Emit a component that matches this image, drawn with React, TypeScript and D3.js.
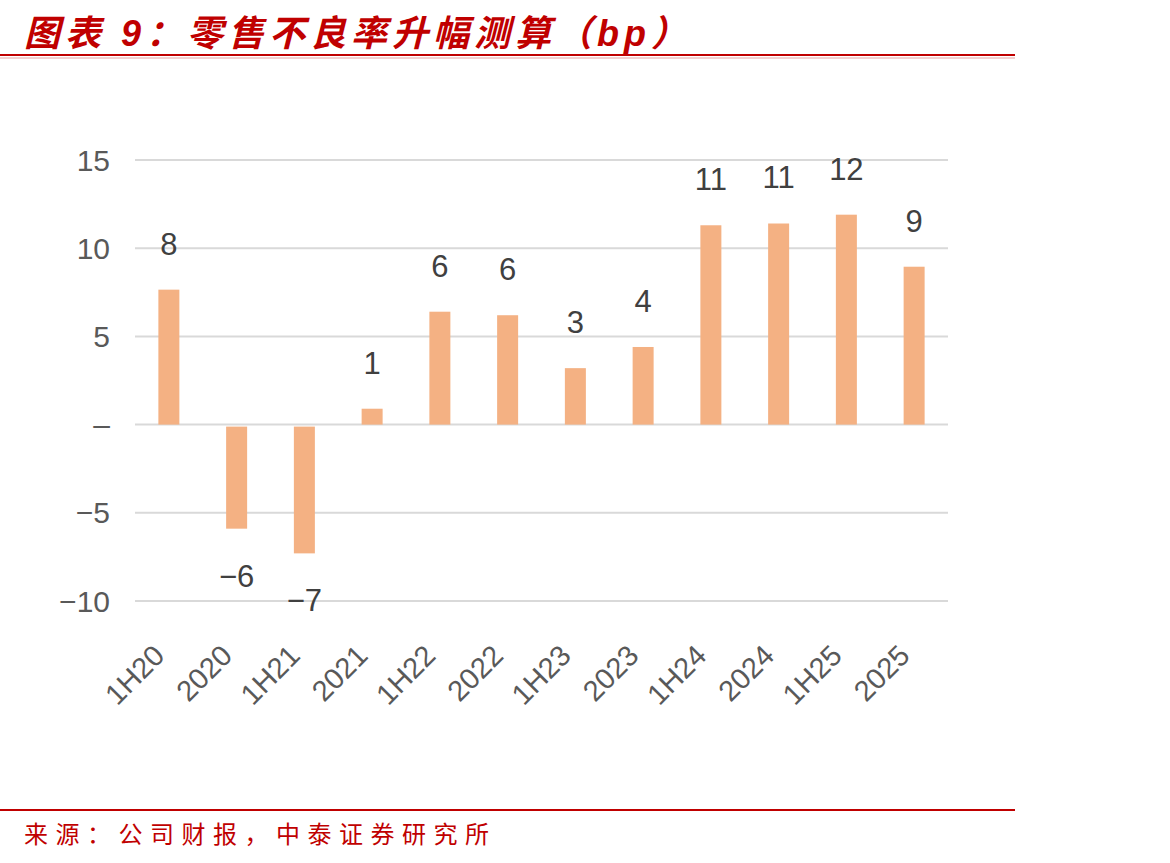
import React from 'react';
import * as d3 from 'd3';

const categories = ['1H20', '2020', '1H21', '2021', '1H22', '2022', '1H23', '2023', '1H24', '2024', '1H25', '2025'];
const values = [7.65, -5.9, -7.3, 0.9, 6.4, 6.2, 3.2, 4.4, 11.3, 11.4, 11.9, 8.95];
const valueLabels = ['8', '−6', '−7', '1', '6', '6', '3', '4', '11', '11', '12', '9'];
const yTicks = [-10, -5, 0, 5, 10, 15];
const yTickLabels = ['−10', '−5', '–', '5', '10', '15'];

const W = 1170;
const H = 863;
const plot = { left: 135, right: 948, top: 160, bottom: 601 };

const App = () => {
  const x = d3.scaleBand<string>().domain(categories).range([plot.left, plot.right]).paddingInner(0.69).paddingOuter(0.345);
  const y = d3.scaleLinear().domain([-10, 15]).range([plot.bottom, plot.top]);
  const bw = x.bandwidth();
  const sans = '"Liberation Sans", Arial, sans-serif';
  const cjk = '"Noto Sans CJK SC", sans-serif';

  return (
    <div style={{ position: 'absolute', left: 0, top: 0 }}>
      <svg width={W} height={H} style={{ display: 'block', background: '#fff' }}>
        {/* title */}
        <text x={24} y={46} fill="#c00000" fontSize={36} fontStyle="italic" fontWeight="bold" fontFamily={cjk} letterSpacing={5}>
          图表<tspan fontFamily={sans}> 9</tspan>：零售不良率升幅测算（<tspan fontFamily={sans}>bp</tspan>）
        </text>
        <line x1={0} x2={1015} y1={55} y2={55} stroke="#c00000" strokeWidth={2} />
        <line x1={0} x2={1015} y1={58} y2={58} stroke="#e8a0a0" strokeWidth={1} />

        {/* grid */}
        {yTicks.map((t, i) => (
          <g key={t}>
            <line x1={plot.left} x2={plot.right} y1={y(t)} y2={y(t)} stroke="#d9d9d9" strokeWidth={2} />
            <text x={110} y={y(t)} dy="0.35em" textAnchor="end" fontSize={30} fill="#595959" fontFamily={sans}>
              {yTickLabels[i]}
            </text>
          </g>
        ))}

        {/* bars */}
        {values.map((v, i) => {
          const cx = (x(categories[i]) as number) + bw / 2;
          const y0 = v >= 0 ? y(v) : y(0) + 2;
          const h = v >= 0 ? y(0) - y(v) : y(v) - y(0) - 2;
          return (
            <g key={categories[i]}>
              <rect x={cx - bw / 2} y={y0} width={bw} height={h} fill="#f4b183" />
              <text
                x={cx}
                y={v >= 0 ? y(v) - 46 : y(v) + 47}
                dy="0.35em"
                textAnchor="middle"
                fontSize={31}
                fill="#404040"
                fontFamily={sans}
              >
                {valueLabels[i]}
              </text>
              <text
                transform={`translate(${cx - 18},${642}) rotate(-45)`}
                textAnchor="end"
                dy="0.75em"
                fontSize={29}
                fill="#595959"
                fontFamily={sans}
              >
                {categories[i]}
              </text>
            </g>
          );
        })}

        {/* footer */}
        <line x1={0} x2={1015} y1={810} y2={810} stroke="#c00000" strokeWidth={2} />
        <text x={24} y={843} fill="#c00000" fontSize={24} fontFamily={cjk} letterSpacing={7.5}>
          来源：公司财报，中泰证券研究所
        </text>
      </svg>
    </div>
  );
};

export default App;
